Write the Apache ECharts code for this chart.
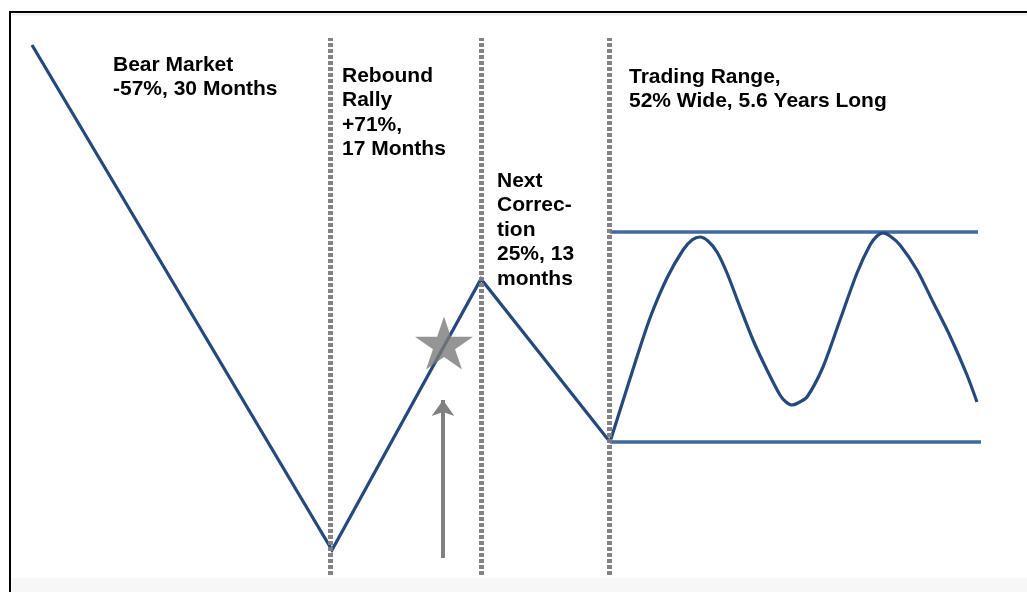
<!DOCTYPE html>
<html>
<head>
<meta charset="utf-8">
<script src="https://cdn.jsdelivr.net/npm/echarts@6/dist/echarts.min.js"></script>
<style>
  html, body { margin: 0; padding: 0; background: #ffffff; }
  #chart { width: 1027px; height: 592px; }
</style>
</head>
<body>
<div id="chart"></div>
<script>
// ---- Data (abstract timeline units vs. index level) ----
const phaseX     = [32, 332, 481, 610];
const phaseLevel = [547, 42, 313, 150];

const rangeX     = [610, 622, 635, 650, 667, 683, 692, 700, 708, 717, 727, 740, 753, 767, 780, 786, 792,
                    798, 807, 823, 840, 857, 870, 877, 883, 890, 900, 917, 933, 950, 967, 977];
const rangeLevel = [150, 188, 229, 274, 314, 342, 352, 355, 351, 340, 319, 285, 252, 222, 197, 190, 187,
                    189, 195, 225, 272, 319, 347, 356, 359, 356, 347, 322, 290, 256, 217, 190];

const rangeTopX = [610, 978];
const rangeTopLevel = [360, 360];
const rangeBottomX = [610, 981];
const rangeBottomLevel = [150, 150];

const dividerX = [330, 481, 609];
const dividerSpan = [17, 554];

const starX = [444];
const starLevel = [249];

const arrowX = 443;
const arrowLevels = [34, 192];

const labelTexts = [
  'Bear Market\n-57%, 30 Months',
  'Rebound\nRally\n+71%,\n17 Months',
  'Next\nCorrec-\ntion\n25%, 13\nmonths',
  'Trading Range,\n52% Wide, 5.6 Years Long'
];

// ---- Build ----
const zip = (xs, ys) => xs.map((x, i) => [x, ys[i]]);
const blue = '#26497d';
const gray = '#808080';
const font = 'bold 21px "Liberation Sans", Arial, sans-serif';
const labelPos = [[113, 52.75], [342, 63.75], [497, 168.75], [629, 64.75]];

const starPath = 'path://M50,0 L61.23,34.55 L97.55,34.55 L68.16,55.9 L79.39,90.45 L50,69.1 L20.61,90.45 L31.84,55.9 L2.45,34.55 L38.77,34.55 Z';

const chart = echarts.init(document.getElementById('chart'), null, { renderer: 'canvas' });

chart.setOption({
  animation: false,
  backgroundColor: '#ffffff',
  grid: { left: 0, right: 0, top: 0, bottom: 0 },
  xAxis: { type: 'value', min: 0, max: 1027, show: false },
  yAxis: { type: 'value', min: 0, max: 592, show: false },
  graphic: [
    { type: 'rect', shape: { x: 12, y: 578, width: 1015, height: 14 }, style: { fill: '#f7f7f7' }, z: -10 },
    { type: 'line', shape: { x1: 12, y1: 14.5, x2: 1027, y2: 14.5 }, style: { stroke: '#e6e6e6', lineWidth: 1.5 }, z: -10 },
    { type: 'line', shape: { x1: 9, y1: 12, x2: 1027, y2: 12 }, style: { stroke: '#000', lineWidth: 2 }, z: 50 },
    { type: 'line', shape: { x1: 10, y1: 11, x2: 10, y2: 592 }, style: { stroke: '#000', lineWidth: 2 }, z: 50 }
  ].concat(labelTexts.map((t, i) => ({
    type: 'text',
    x: labelPos[i][0],
    y: labelPos[i][1],
    z: 40,
    style: { text: t, font: font, fill: '#000000', lineHeight: 24.5, align: 'left', verticalAlign: 'top' }
  }))),
  series: [
    {
      name: 'dividers',
      type: 'line',
      data: [],
      z: 1,
      markLine: {
        silent: true,
        symbol: ['none', 'none'],
        label: { show: false },
        lineStyle: { color: '#7d7d7d', width: 5, type: [4, 2], opacity: 0.95 },
        data: dividerX.map(x => [{ coord: [x, dividerSpan[0]] }, { coord: [x, dividerSpan[1]] }])
      }
    },
    {
      name: 'rangeTop',
      type: 'line',
      data: zip(rangeTopX, rangeTopLevel),
      symbol: 'none',
      lineStyle: { color: '#4167a0', width: 3.5 },
      z: 2
    },
    {
      name: 'rangeBottom',
      type: 'line',
      data: zip(rangeBottomX, rangeBottomLevel),
      symbol: 'none',
      lineStyle: { color: '#4167a0', width: 3.5 },
      z: 2
    },
    {
      name: 'phases',
      type: 'line',
      data: zip(phaseX, phaseLevel),
      symbol: 'none',
      lineStyle: { color: blue, width: 3.2, join: 'miter' },
      z: 3
    },
    {
      name: 'range',
      type: 'line',
      data: zip(rangeX, rangeLevel),
      symbol: 'none',
      smooth: 0.25,
      lineStyle: { color: blue, width: 3.2, join: 'round' },
      z: 3
    },
    {
      name: 'star',
      type: 'scatter',
      data: zip(starX, starLevel),
      symbol: starPath,
      symbolSize: [58, 53],
      itemStyle: { color: '#7b7b7b' },
      z: 5,
      markLine: {
        silent: true,
        symbol: ['none', 'arrow'],
        symbolSize: [17, 16],
        label: { show: false },
        lineStyle: { color: gray, width: 4, type: 'solid' },
        data: [[{ coord: [arrowX, arrowLevels[0]] }, { coord: [arrowX, arrowLevels[1]] }]]
      }
    }
  ]
});
</script>
</body>
</html>
